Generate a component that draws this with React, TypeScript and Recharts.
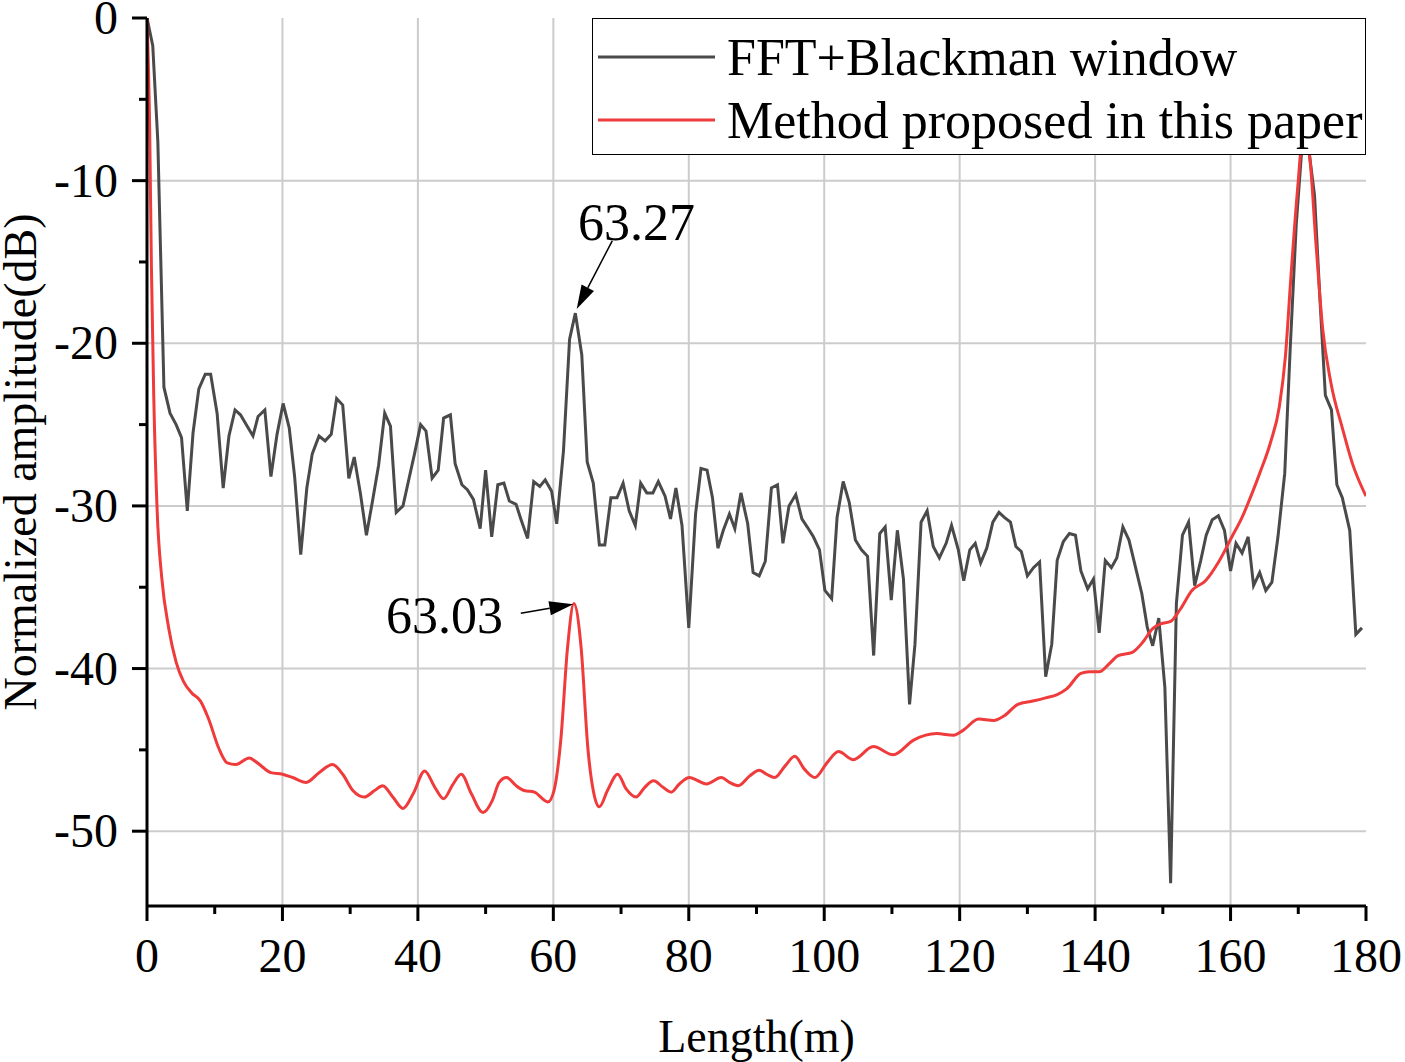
import React from "react"
import {
  LineChart,
  Line,
  XAxis,
  YAxis,
  CartesianGrid,
  Legend,
  ReferenceLine,
  ReferenceDot,
  Label,
} from "recharts"

const FONT = "'Liberation Serif', 'Times New Roman', serif"

// FFT + Blackman window (sampled roughly every 0.9 m)
const blackX = [
  0, 0.85, 1.6, 2.5, 3.4, 4.3, 5.1, 5.95, 6.8, 7.65, 8.6, 9.4, 10.35, 11.25, 12.1, 13.0, 13.8, 14.8, 15.65,
  16.4, 17.4, 18.3, 19.2, 20.1, 21.0, 21.8, 22.7, 23.6, 24.4, 25.4, 26.3, 27.2, 28.0, 28.9, 29.8, 30.6, 31.5,
  32.4, 33.3, 34.2, 35.1, 35.95, 36.8, 37.8, 38.7, 39.5, 40.4, 41.2, 42.1, 43.0, 43.8, 44.8, 45.5, 46.5, 47.3,
  48.2, 49.2, 50.0, 50.9, 51.8, 52.7, 53.5, 54.5, 55.2, 56.2, 57.1, 58.0, 58.8, 59.75, 60.5, 61.5, 62.4, 63.25,
  64.2, 65.0, 65.9, 66.8, 67.6, 68.5, 69.4, 70.3, 71.2, 72.1, 72.9, 73.8, 74.7, 75.5, 76.5, 77.3, 78.1, 79.0,
  80.0, 81.0, 81.8, 82.7, 83.5, 84.3, 85.1, 86.0, 86.8, 87.7, 88.7, 89.5, 90.4, 91.3, 92.2, 93.1, 93.9, 94.8,
  95.8, 96.7, 97.5, 98.4, 99.3, 100.1, 101.1, 101.9, 102.8, 103.7, 104.6, 105.5, 106.4, 107.3, 108.2, 109.0,
  109.9, 110.8, 111.7, 112.6, 113.4, 114.3, 115.2, 116.1, 117.0, 118.0, 118.8, 119.8, 120.6, 121.5, 122.3,
  123.1, 124.0, 124.9, 125.8, 126.6, 127.5, 128.3, 129.1, 130.0, 130.9, 131.8, 132.7, 133.6, 134.4, 135.3,
  136.2, 137.1, 137.9, 138.9, 139.75, 140.6, 141.5, 142.4, 143.2, 144.1, 145.0, 145.9, 146.9, 147.7, 148.5,
  149.4, 150.3, 151.15, 152.0, 152.9, 153.8, 154.7, 155.6, 156.4, 157.3, 158.2, 159.1, 160.0, 160.8, 161.7,
  162.6, 163.4, 164.3, 165.2, 166.1, 167.0, 168.0, 168.8, 169.7, 170.6, 171.5, 172.4, 173.2, 174.0, 174.9,
  175.7, 176.5, 177.6, 178.5, 179.4,
]
const blackY = [
  0, -1.7, -7.6, -22.7, -24.3, -25.0, -25.8, -30.3, -25.5, -22.8, -21.9, -21.9, -24.3, -28.9, -25.7, -24.1,
  -24.4, -25.1, -25.7, -24.5, -24.1, -28.2, -25.6, -23.7, -25.2, -28.2, -33.0, -28.9, -26.8, -25.7, -26.0,
  -25.6, -23.4, -23.8, -28.3, -27.0, -29.2, -31.8, -29.7, -27.5, -24.3, -25.1, -30.4, -30.0, -28.3, -26.8,
  -25.0, -25.4, -28.3, -27.8, -24.6, -24.4, -27.4, -28.7, -29.0, -29.6, -31.4, -27.8, -31.9, -28.7, -28.6,
  -29.7, -29.9, -30.8, -32.0, -28.5, -28.8, -28.4, -29.1, -31.1, -26.6, -19.75, -18.15, -20.7, -27.3, -28.6,
  -32.4, -32.4, -29.5, -29.5, -28.6, -30.3, -31.2, -28.6, -29.2, -29.2, -28.5, -29.4, -30.8, -28.9, -31.2,
  -37.5, -30.5, -27.7, -27.8, -29.5, -32.6, -31.5, -30.5, -31.4, -29.2, -31.1, -34.1, -34.3, -33.4, -28.9,
  -28.7, -32.3, -30.0, -29.3, -30.8, -31.3, -31.9, -32.7, -35.2, -35.7, -30.7, -28.5, -29.8, -32.1, -32.7,
  -33.1, -39.2, -31.7, -31.3, -35.8, -31.5, -34.5, -42.2, -38.5, -31.0, -30.3, -32.5, -33.2, -32.3, -31.2,
  -32.7, -34.6, -32.7, -32.3, -33.5, -32.6, -31.0, -30.4, -30.7, -31.0, -32.5, -32.8, -34.3, -33.8, -33.45,
  -40.5, -38.5, -33.35, -32.2, -31.7, -31.8, -34.0, -35.1, -34.5, -37.8, -33.35, -33.8, -33.2, -31.3, -32.1,
  -33.65, -35.4, -37.45, -38.6, -36.9, -41.15, -53.2, -36.0, -31.8, -31.0, -34.9, -33.35, -31.8, -30.85,
  -30.6, -31.5, -34.0, -32.3, -32.9, -31.9, -34.9, -34.1, -35.2, -34.7, -31.9, -28.0, -20.4, -12.7, -7.6,
  -7.9, -10.9, -17.3, -23.2, -24.1, -28.7, -29.5, -31.5, -37.9, -37.5,
]

// Method proposed in this paper
const redX = [
  0, 0.4, 0.65, 1.0, 1.5, 2.2, 3.2, 4.3, 5.4, 6.6, 7.9, 9.1, 10.6, 11.85, 13.1, 15.1, 16.3, 18.3, 20.0, 21.5,
  23.5, 25.4, 27.4, 28.9, 30.4, 32.1, 33.6, 34.8, 36.3, 37.8, 39.3, 41.0, 42.5, 43.8, 45.2, 46.4, 47.9, 49.6,
  51.0, 52.0, 53.1, 54.5, 55.7, 57.2, 59.2, 60.1, 61.1, 62.1, 63.03, 64.1, 65.1, 66.1, 66.8, 68.0, 69.5,
  70.75, 72.2, 73.5, 74.8, 76.2, 77.4, 78.6, 80.1, 81.35, 82.6, 84.8, 86.0, 87.3, 89.0, 90.4, 91.5, 92.7,
  94.2, 95.65, 97.1, 98.6, 100.4, 102.1, 104.3, 107.25, 110.2, 113.2, 116.6, 119.1, 120.5, 122.8, 125.0,
  126.6, 128.6, 130.8, 132.7, 134.4, 135.8, 137.9, 139.1, 140.6, 142.1, 143.4, 145.5, 147.0, 148.5, 149.7,
  151.15, 152.5, 154.3, 156.3, 158.3, 160.2, 161.7, 163.2, 164.3, 165.9, 167.2, 168.1, 168.9, 169.9, 170.7,
  171.6, 172.6, 173.6, 174.8, 176.5, 178.0, 180.0,
]
const redY = [
  0, -7, -15.3, -23.3, -30.3, -34.5, -37.5, -39.6, -40.8, -41.5, -42.0, -43.1, -44.9, -45.8, -45.9, -45.5,
  -45.8, -46.4, -46.5, -46.7, -47.0, -46.4, -45.9, -46.5, -47.5, -47.9, -47.5, -47.2, -47.9, -48.6, -47.7,
  -46.3, -47.3, -48.0, -47.1, -46.5, -47.7, -48.85, -48.1, -47.0, -46.7, -47.2, -47.5, -47.6, -48.2, -47.5,
  -44.4, -38.7, -36.0, -38.7, -44.9, -47.9, -48.5, -47.5, -46.5, -47.4, -47.9, -47.3, -46.9, -47.3, -47.6,
  -47.1, -46.7, -46.9, -47.1, -46.7, -47.0, -47.2, -46.6, -46.25, -46.5, -46.7, -46.0, -45.4, -46.2, -46.7,
  -45.8, -45.1, -45.6, -44.8, -45.3, -44.4, -44.0, -44.1, -43.8, -43.1, -43.2, -42.9, -42.2, -42.0, -41.8,
  -41.6, -41.25, -40.3, -40.2, -40.2, -39.7, -39.2, -39.0, -38.4, -37.55, -37.25, -37.1, -36.4, -35.2,
  -34.6, -33.4, -31.9, -30.7, -29.2, -28.0, -26.1, -23.9, -20.8, -16.0, -10.5, -7.3, -8.3, -13.8, -19.1,
  -22.4, -25.2, -27.4, -29.4,
]

const xTicks = [0, 10, 20, 30, 40, 50, 60, 70, 80, 90, 100, 110, 120, 130, 140, 150, 160, 170, 180]
const yTicks = [0, -5, -10, -15, -20, -25, -30, -35, -40, -45, -50]
const xGrid = [20, 40, 60, 80, 100, 120, 140, 160]
const yGrid = [-10, -20, -30, -40, -50]

// peak labels: text anchor point, arrow start, arrow tip
const peakLabels = [
  { text: "63.27", tx: 63.65, ty: -13.65, from: { x: 68.7, y: -13.7 }, to: { x: 63.45, y: -17.9 } },
  { text: "63.03", tx: 35.3, ty: -37.8, from: { x: 55.2, y: -36.6 }, to: { x: 62.95, y: -36.04 } },
]

const blackData = blackX.map((x, i) => ({ x, y: blackY[i] }))
const redData = redX.map((x, i) => ({ x, y: redY[i] }))

function YTick({ x, y, payload }: any) {
  const major = payload.value % 10 === 0
  return (
    <g>
      <line x1={x + 14 + (major ? 0 : 7)} x2={x + 29} y1={y} y2={y} stroke="#000" strokeWidth={3} />
      {major && (
        <text x={x} y={y + 16} textAnchor="end" fontSize={48} fontFamily={FONT} fill="#000">
          {payload.value}
        </text>
      )}
    </g>
  )
}

function XTick({ x, y, payload }: any) {
  const major = payload.value % 20 === 0
  return (
    <g>
      <line x1={x} x2={x} y1={y - 32} y2={y - 32 + (major ? 15 : 8)} stroke="#000" strokeWidth={3} />
      {major && (
        <text x={x} y={y + 34} textAnchor="middle" fontSize={48} fontFamily={FONT} fill="#000">
          {payload.value}
        </text>
      )}
    </g>
  )
}

function Arrow(p: any) {
  const { x1, y1, x2, y2 } = p
  const dx = x2 - x1
  const dy = y2 - y1
  const len = Math.sqrt(dx * dx + dy * dy)
  const ux = dx / len
  const uy = dy / len
  const hl = 24
  const hw = 7
  const bx = x2 - ux * hl
  const by = y2 - uy * hl
  return (
    <g>
      <line x1={x1} y1={y1} x2={bx} y2={by} stroke="#000" strokeWidth={1.5} />
      <polygon
        points={`${x2},${y2} ${bx - uy * hw},${by + ux * hw} ${bx + uy * hw},${by - ux * hw}`}
        fill="#000"
      />
    </g>
  )
}

function LegendBox({ payload }: any) {
  const items = payload || []
  return (
    <div
      style={{
        width: 774,
        height: 137,
        boxSizing: "border-box",
        border: "1.5px solid #000",
        background: "#fff",
      }}
    >
      <svg width={771} height={134} style={{ display: "block" }}>
        {items.map((it: any, i: number) => (
          <g key={it.value}>
            <line x1={5} x2={122} y1={38 + i * 63} y2={38 + i * 63} stroke={it.color} strokeWidth={3} />
            <text x={134} y={56 + i * 63} fontSize={52} fontFamily={FONT} fill="#000">
              {it.value}
            </text>
          </g>
        ))}
      </svg>
    </div>
  )
}

export default function App() {
  return (
    <div style={{ position: "absolute", left: 0, top: 0, width: 1405, height: 1062, background: "#fff" }}>
      <LineChart width={1405} height={1062} margin={{ top: 18, right: 39, left: 0, bottom: 0 }}>
        <CartesianGrid
          stroke="#cccccc"
          strokeWidth={2}
          horizontalValues={yGrid}
          verticalValues={xGrid}
        />
        <XAxis
          dataKey="x"
          type="number"
          domain={[0, 180]}
          ticks={xTicks}
          interval={0}
          height={156}
          tickSize={15}
          tickMargin={17}
          tickLine={false}
          axisLine={{ stroke: "#000", strokeWidth: 3 }}
          tick={<XTick />}
          allowDataOverflow
        >
          <Label
            content={({ viewBox }: any) => (
              <text
                x={viewBox.x + viewBox.width / 2}
                y={viewBox.y + 146}
                textAnchor="middle"
                fontSize={46}
                fontFamily={FONT}
                fill="#000"
              >
                Length(m)
              </text>
            )}
          />
        </XAxis>
        <YAxis
          type="number"
          domain={[-54.6, 0]}
          ticks={yTicks}
          interval={0}
          width={147}
          tickSize={15}
          tickMargin={14}
          tickLine={false}
          axisLine={{ stroke: "#000", strokeWidth: 3 }}
          tick={<YTick />}
          allowDataOverflow
        >
          <Label
            content={({ viewBox }: any) => {
              const cx = 36
              const cy = viewBox.y + viewBox.height / 2
              return (
                <text
                  x={cx}
                  y={cy}
                  transform={`rotate(-90 ${cx} ${cy})`}
                  textAnchor="middle"
                  fontSize={46}
                  fontFamily={FONT}
                  fill="#000"
                >
                  Normalized amplitude(dB)
                </text>
              )
            }}
          />
        </YAxis>
        <XAxis
          xAxisId="top"
          orientation="top"
          type="number"
          domain={[0, 180]}
          height={0}
          tick={false}
          tickLine={false}
          axisLine={{ stroke: "#000", strokeWidth: 3 }}
        />
        <YAxis
          yAxisId="right"
          orientation="right"
          type="number"
          domain={[-54.6, 0]}
          width={0}
          tick={false}
          tickLine={false}
          axisLine={{ stroke: "#000", strokeWidth: 3 }}
        />
        <Line
          data={blackData}
          dataKey="y"
          name="FFT+Blackman window"
          type="linear"
          stroke="#4a4a4a"
          strokeWidth={3}
          dot={false}
          isAnimationActive={false}
        />
        <Line
          data={redData}
          dataKey="y"
          name="Method proposed in this paper"
          type="monotone"
          stroke="#ef3b3b"
          strokeWidth={3}
          dot={false}
          isAnimationActive={false}
        />
        {peakLabels.map((p) => (
          <ReferenceLine key={"a" + p.text} segment={[p.from, p.to]} shape={Arrow} ifOverflow="visible" />
        ))}
        {peakLabels.map((p) => (
          <ReferenceDot
            key={"t" + p.text}
            x={p.tx}
            y={p.ty}
            r={0}
            ifOverflow="visible"
            shape={(s: any) => (
              <text x={s.cx} y={s.cy} fontSize={52} fontFamily={FONT} fill="#000">
                {p.text}
              </text>
            )}
          />
        ))}
        <Legend
          layout="horizontal"
          verticalAlign="middle"
          align="center"
          wrapperStyle={{ position: "absolute", left: 592, top: 18, width: 774, height: 137 }}
          content={(props: any) => <LegendBox payload={props.payload} />}
        />
      </LineChart>
    </div>
  )
}
